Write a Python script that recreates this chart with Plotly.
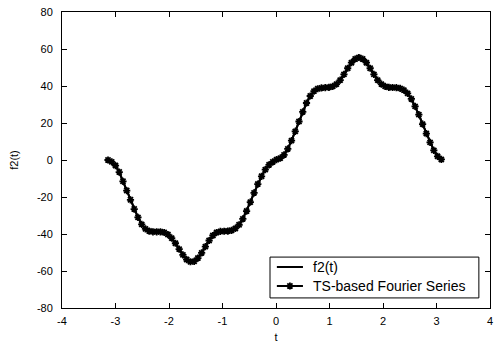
import plotly.graph_objects as go

t_neg = [-3.14, -3.07, -3.00, -2.93, -2.86, -2.79, -2.72, -2.65, -2.58, -2.51, -2.44, -2.37,
         -2.30, -2.23, -2.16, -2.09, -2.02, -1.95, -1.88, -1.81, -1.74, -1.67, -1.60, -1.53,
         -1.46, -1.39, -1.32, -1.25, -1.18, -1.11, -1.04, -0.97, -0.90, -0.83, -0.76, -0.69,
         -0.62, -0.55, -0.48, -0.41, -0.34, -0.27, -0.20, -0.13, -0.06, 0.01]
f_neg = [0.0, -1.0, -3.0, -6.5, -11.5, -16.5, -21.5, -26.5, -31.0, -34.8, -37.2, -38.4,
         -38.8, -38.8, -38.8, -39.2, -40.3, -42.2, -45.0, -48.2, -51.3, -53.8, -55.0, -54.8,
         -53.0, -50.2, -46.8, -43.5, -40.8, -39.2, -38.6, -38.5, -38.4, -38.0, -37.0, -35.0,
         -31.8, -27.6, -22.8, -17.8, -13.0, -8.8, -5.2, -2.6, -1.0, 0.2]
t_pos = [0.08, 0.15, 0.22, 0.29, 0.36, 0.43, 0.50, 0.57, 0.64, 0.71, 0.78, 0.85, 0.92, 0.99,
         1.06, 1.13, 1.20, 1.27, 1.34, 1.41, 1.48, 1.55, 1.62, 1.69, 1.76, 1.83, 1.90, 1.97,
         2.04, 2.11, 2.18, 2.25, 2.32, 2.39, 2.46, 2.53, 2.60, 2.67, 2.74, 2.81, 2.88, 2.95,
         3.02, 3.09]
f_pos = [1.0, 2.8, 6.0, 10.5, 15.5, 20.8, 26.0, 30.8, 34.6, 37.2, 38.5, 39.0, 39.1, 39.3,
         39.8, 41.0, 43.2, 46.3, 49.6, 52.6, 54.6, 55.4, 54.6, 52.6, 49.6, 46.3, 43.2, 41.0,
         39.8, 39.3, 39.2, 39.1, 38.7, 37.8, 36.0, 33.0, 29.0, 24.5, 19.4, 14.3, 9.5, 5.2,
         2.0, 0.3]

t = t_neg + t_pos
f2 = f_neg + f_pos
ts_fourier = f_neg + f_pos

x_ticks = [-4, -3, -2, -1, 0, 1, 2, 3, 4]
y_ticks = [-80, -60, -40, -20, 0, 20, 40, 60, 80]
legend_names = ["f2(t)", "TS-based Fourier Series"]

FAM = "Liberation Sans, Arial, sans-serif"
font = dict(family=FAM, size=11, color="black")
marker_style = dict(symbol="asterisk-open", size=6, color="black",
                    line=dict(color="black", width=1.8))

fig = go.Figure()
fig.add_trace(go.Scatter(x=t, y=f2, mode="lines", name=legend_names[0],
                         line=dict(color="black", width=2), showlegend=False))
fig.add_trace(go.Scatter(x=t, y=ts_fourier, mode="lines+markers", name=legend_names[1],
                         line=dict(color="black", width=2), marker=marker_style,
                         showlegend=False))

# legend drawn on an overlay axis spanning the plot area (0..1 in both directions)
lx0, lx1, ly0, ly1 = 0.486, 0.974, 0.034, 0.172
row_y = [0.1385, 0.0743]
sample_x = [0.502, 0.563]
fig.add_shape(type="rect", xref="paper", yref="paper", x0=lx0, x1=lx1, y0=ly0, y1=ly1,
              line=dict(color="black", width=1), fillcolor="white", layer="below")
fig.add_trace(go.Scatter(x=sample_x, y=[row_y[0]] * 2, xaxis="x2", yaxis="y2", mode="lines",
                         line=dict(color="black", width=2), showlegend=False, hoverinfo="skip"))
fig.add_trace(go.Scatter(x=sample_x, y=[row_y[1]] * 2, xaxis="x2", yaxis="y2", mode="lines",
                         line=dict(color="black", width=2), showlegend=False, hoverinfo="skip"))
fig.add_trace(go.Scatter(x=[sum(sample_x) / 2], y=[row_y[1]], xaxis="x2", yaxis="y2",
                         mode="markers", marker=marker_style, showlegend=False, hoverinfo="skip"))
for name, yy in zip(legend_names, row_y):
    fig.add_annotation(x=0.582, y=yy, xref="x2", yref="y2", text=name, showarrow=False,
                       xanchor="left", yanchor="middle",
                       font=dict(family=FAM, size=14, color="black"))

axis_common = dict(showgrid=False, zeroline=False, showline=True, linecolor="black",
                   linewidth=1, mirror="ticks", ticks="inside", ticklen=5,
                   tickcolor="black", tickfont=font, automargin=False)

fig.update_layout(
    width=495, height=344,
    margin=dict(l=62, r=5, t=12, b=36),
    paper_bgcolor="white", plot_bgcolor="white",
    font=font,
    showlegend=False,
    xaxis=dict(range=[-4, 4], tickvals=x_ticks, ticktext=[str(v) for v in x_ticks],
               ticklabelstandoff=3,
               title=dict(text="t", font=font, standoff=7), **axis_common),
    yaxis=dict(range=[-80, 80], tickvals=y_ticks, ticktext=[str(v) for v in y_ticks],
               ticklabelstandoff=6,
               title=dict(text="f2(t)", font=font, standoff=16), **axis_common),
    xaxis2=dict(domain=[0, 1], range=[0, 1], overlaying="x", visible=False, fixedrange=True),
    yaxis2=dict(domain=[0, 1], range=[0, 1], overlaying="y", visible=False, fixedrange=True),
)

fig.write_html("out.html")
